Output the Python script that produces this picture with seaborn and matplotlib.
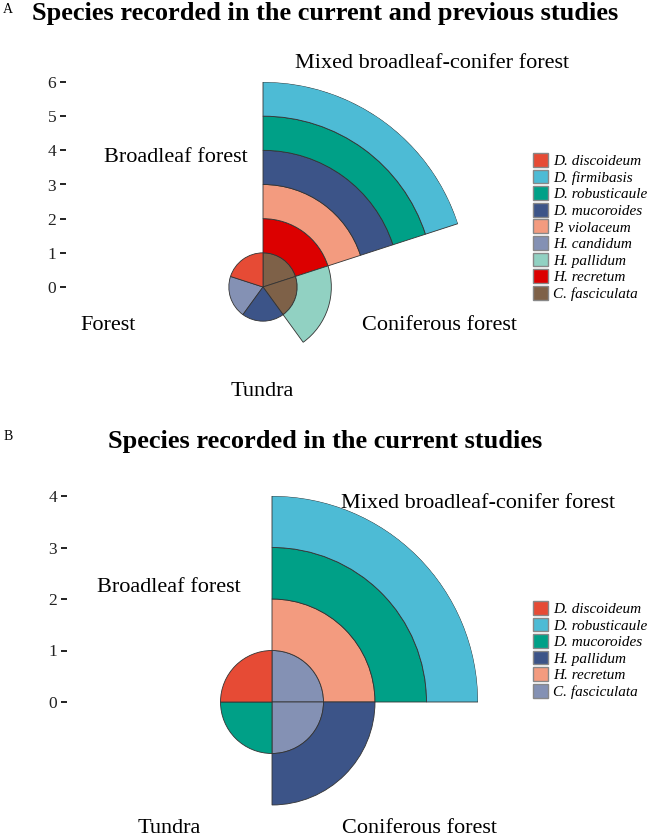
import numpy as np
import pandas as pd
import matplotlib
matplotlib.use("Agg")
import matplotlib.pyplot as plt
from matplotlib.patches import Patch
import seaborn as sns

# Panel A: species recorded in the current and previous studies
species_a = ["D. discoideum", "D. firmibasis", "D. robusticaule", "D. mucoroides",
             "P. violaceum", "H. candidum", "H. pallidum", "H. recretum", "C. fasciculata"]
habitats_a = ["Mixed broadleaf-conifer forest", "Coniferous forest", "Tundra",
              "Forest", "Broadleaf forest"]
# presence (1) of each species, in species_a order
mixed_a = [0, 1, 1, 1, 1, 0, 0, 1, 1]
coniferous_a = [0, 0, 0, 0, 0, 0, 1, 0, 1]
tundra_a = [0, 0, 0, 1, 0, 0, 0, 0, 0]
forest_a = [0, 0, 0, 0, 0, 1, 0, 0, 0]
broadleaf_a = [1, 0, 0, 0, 0, 0, 0, 0, 0]

# Panel B: species recorded in the current studies
species_b = ["D. discoideum", "D. robusticaule", "D. mucoroides", "H. pallidum",
             "H. recretum", "C. fasciculata"]
habitats_b = ["Mixed broadleaf-conifer forest", "Coniferous forest", "Tundra",
              "Broadleaf forest"]
mixed_b = [0, 1, 1, 0, 1, 1]
coniferous_b = [0, 0, 0, 1, 0, 1]
tundra_b = [0, 0, 1, 0, 0, 0]
broadleaf_b = [1, 0, 0, 0, 0, 0]

npg = ["#E64B35", "#4DBBD5", "#00A087", "#3C5488", "#F39B7F",
       "#8491B4", "#91D1C2", "#DC0000", "#7E6148"]

sns.set_theme(style="white")
plt.rcParams['font.family'] = ['Liberation Serif', 'DejaVu Serif']
plt.rcParams['text.color'] = 'black'

W, H = 650, 838
fig = plt.figure(figsize=(W / 100, H / 100), dpi=100)


def px(x, y):
    return x / W, 1 - y / H


def draw_panel(table, species, habitats, colors, rmax, cx, cy, rad, axis_x,
               labels_xy, legend_y):
    df = pd.DataFrame(table, index=habitats, columns=species)
    n = len(habitats)
    width = 2 * np.pi / n
    theta = (np.arange(n) + 0.5) * width

    ax = fig.add_axes([(cx - rad) / W, 1 - (cy + rad) / H, 2 * rad / W, 2 * rad / H],
                      projection='polar')
    ax.set_theta_zero_location('N')
    ax.set_theta_direction(-1)

    # first species ends up on the outside, like ggplot's stacking
    bottom = np.zeros(n)
    for sp in species[::-1]:
        vals = df[sp].values
        keep = vals > 0
        if keep.any():
            ax.bar(theta[keep], vals[keep], width=width, bottom=bottom[keep],
                   color=colors[sp], edgecolor='#333333', linewidth=0.6, align='center')
        bottom += vals
    ax.set_ylim(0, rmax)
    ax.set_axis_off()

    # radial axis drawn on the left like in ggplot
    ax_y = fig.add_axes([axis_x / W, 1 - cy / H, 0.0005, rad / H])
    ax_y.set_ylim(0, rmax)
    ax_y.set_yticks(range(rmax + 1))
    ax_y.set_xticks([])
    for s in ax_y.spines.values():
        s.set_visible(False)
    ax_y.patch.set_alpha(0)
    ax_y.tick_params(axis='y', left=True, length=4.5, width=1.4, pad=2.5,
                     color='#222222', labelcolor='#222222', labelsize=12.5)

    for hab, (x, y) in zip(habitats, labels_xy):
        fig.text(*px(x, y), hab, fontsize=16, ha='center', va='center', color='black')

    handles = [Patch(facecolor=colors[sp], edgecolor='#888888', linewidth=1.0)
               for sp in species]
    fig.legend(handles, species, loc='center left', bbox_to_anchor=px(533, legend_y),
               frameon=False, prop={'style': 'italic', 'size': 11},
               handlelength=1.0, handleheight=1.0, handletextpad=0.3,
               labelspacing=0.1, borderpad=0, borderaxespad=0)


colors_a = dict(zip(species_a, npg))
colors_b = dict(zip(species_b, npg))

draw_panel([mixed_a, coniferous_a, tundra_a, forest_a, broadleaf_a], species_a, habitats_a,
           colors_a, 6, 263, 287, 205, 66,
           [(432, 63), (440, 325), (262, 392), (108, 325), (176, 157)], 227)

draw_panel([mixed_b, coniferous_b, tundra_b, broadleaf_b], species_b, habitats_b,
           colors_b, 4, 272, 702, 206, 67,
           [(478, 503), (420, 828), (169, 828), (169, 587)], 650)

fig.text(*px(325, 20), "Species recorded in the current and previous studies",
         fontsize=19, fontweight='bold', ha='center', va='baseline', color='black')
fig.text(*px(325, 448), "Species recorded in the current studies",
         fontsize=19, fontweight='bold', ha='center', va='baseline', color='black')
fig.text(*px(3, 13), "A", fontsize=10, ha='left', va='baseline')
fig.text(*px(4, 440), "B", fontsize=10, ha='left', va='baseline')

fig.savefig("out.png", dpi=100)
